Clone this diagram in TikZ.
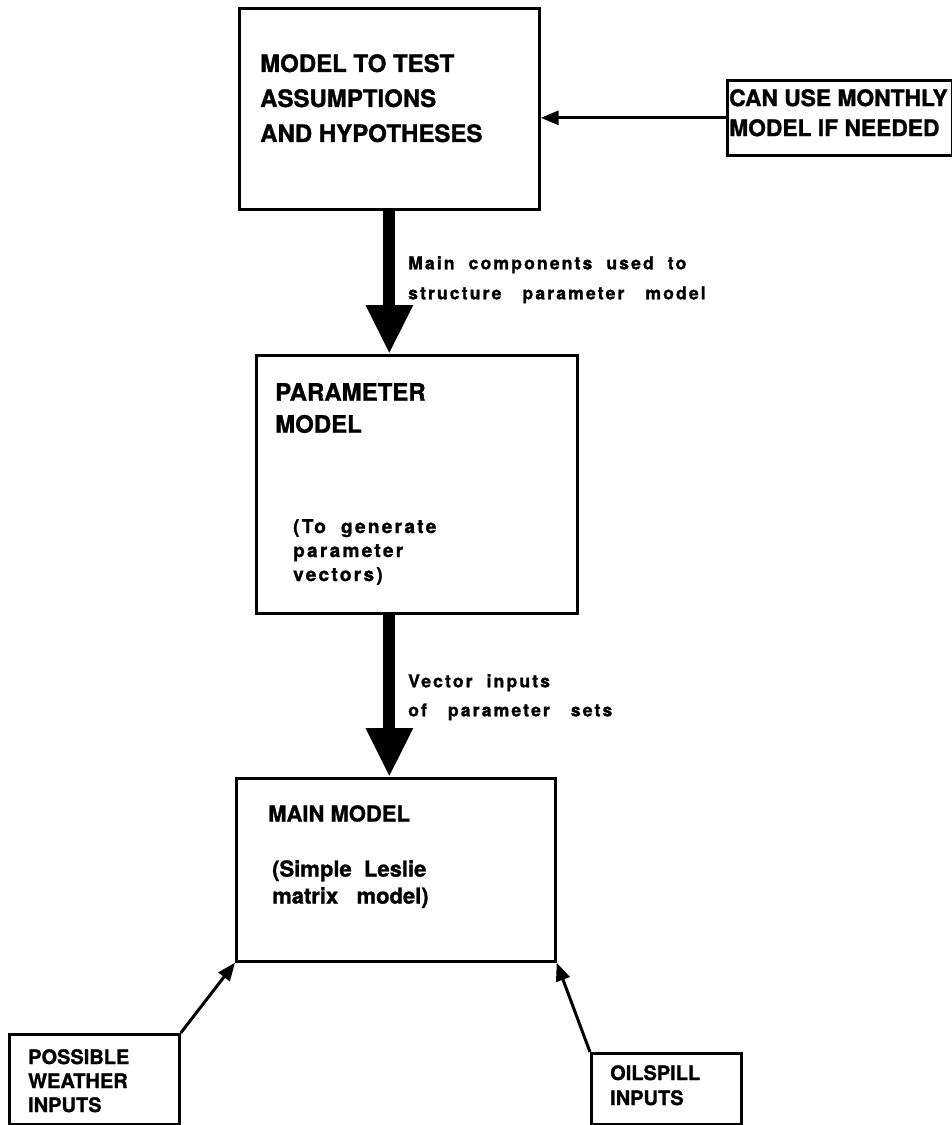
\documentclass[tikz,border=0pt]{standalone}
\usepackage{fontspec}
\setmainfont{TeX Gyre Heros}[BoldFeatures={FakeBold=1.2}]
\newfontfamily\spacedfont{TeX Gyre Heros}[LetterSpace=12,BoldFeatures={FakeBold=1.4}]
\usetikzlibrary{arrows.meta}
\begin{document}
\begin{tikzpicture}[x=1pt,y=-1pt,
  box/.style={draw, line width=2.7pt, anchor=north west, inner sep=0pt},
  txt/.style={anchor=north west, inner sep=0pt, align=left, font=\bfseries},
  lab/.style={anchor=north west, inner sep=0pt, align=left, font=\spacedfont\bfseries},
  thick arrow/.style={line width=12pt, -{Triangle[width=44pt 0 0, length=49pt 0 0]}},
  thin arrow/.style={line width=3pt, -{Triangle[width=14pt 0 0, length=18pt 0 0]}}]
\useasboundingbox (0,0) rectangle (952,1125);
% boxes
\node[box, minimum width=300pt, minimum height=201pt] (m1) at (238,7) {};
\node[box, minimum width=225pt, minimum height=75pt] (cu) at (726,79) {};
\node[box, minimum width=321pt, minimum height=258pt] (m2) at (255,354) {};
\node[box, minimum width=319pt, minimum height=183pt] (m3) at (235,777) {};
\node[box, minimum width=170pt, minimum height=90pt] (w) at (8,1033) {};
\node[box, minimum width=150pt, minimum height=71pt] (o) at (590,1052) {};
% texts
\node[txt, font=\bfseries\fontsize{24}{35}\selectfont] (m1t) at (260,54) {MODEL TO TEST\\ASSUMPTIONS\\AND HYPOTHESES};
\node[txt, font=\bfseries\fontsize{22.8}{30}\selectfont] (cut) at (729,89) {CAN USE MONTHLY\\MODEL IF NEEDED};
\node[txt, font=\bfseries\fontsize{24}{32}\selectfont] (m2t) at (275,383) {PARAMETER\\MODEL};
\node[lab, font=\spacedfont\bfseries\fontsize{19}{24}\selectfont] (m2s) at (293,519) {(To~~generate\\parameter\\vectors)};
\node[txt, font=\bfseries\fontsize{22}{27}\selectfont] (m3t) at (268,805) {MAIN MODEL};
\node[txt, font=\bfseries\fontsize{22}{27}\selectfont] (m3s) at (272,860) {(Simple~~Leslie\\matrix~~~model)};
\node[txt, font=\bfseries\fontsize{20}{24}\selectfont] (wt) at (28,1049) {POSSIBLE\\WEATHER\\INPUTS};
\node[txt, font=\bfseries\fontsize{20}{25}\selectfont] (ot) at (610,1065) {OILSPILL\\INPUTS};
\node[lab, font=\spacedfont\bfseries\fontsize{17.6}{30}\selectfont] (l1) at (408,256) {Main~~components~~used~~to\\structure~~~parameter~~~model};
\node[lab, font=\spacedfont\bfseries\fontsize{17.6}{29}\selectfont] (l2) at (408,674) {Vector~~inputs\\of~~~parameter~~~sets};
% connectors
\draw[thin arrow] (cu.west) -- (cu.west -| m1.east);
\draw[thick arrow] (m1.south) -- (m1.south |- m2.north);
\draw[thick arrow] (m1.south |- m2.south) -- (m1.south |- m3.north);
\draw[thin arrow] (w.north east) -- (m3.south west);
\draw[thin arrow] (o.north west) -- (m3.south east);
\end{tikzpicture}
\end{document}
